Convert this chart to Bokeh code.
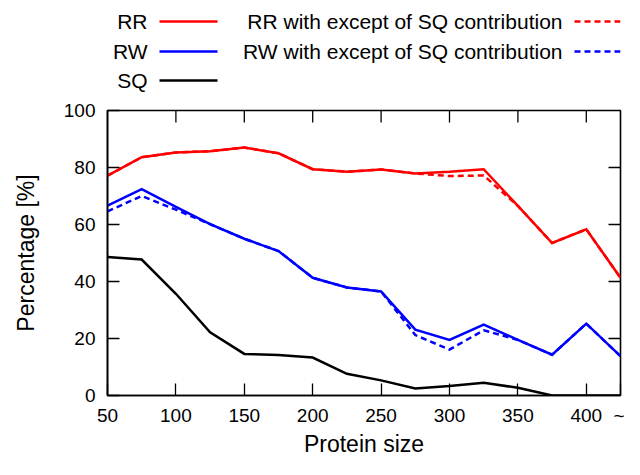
import math
from bokeh.plotting import figure
from bokeh.layouts import column
from bokeh.models import Range1d, FixedTicker, ColumnDataSource
from bokeh.core.properties import value
from bokeh.embed import file_html
from bokeh.resources import INLINE

# ---------------- data ----------------
protein_size = [50, 75, 100, 125, 150, 175, 200, 225, 250, 275, 300, 325, 350, 375, 400, 425]
rr = [77.1, 83.6, 85.3, 85.7, 87.0, 85.0, 79.4, 78.5, 79.3, 77.9, 78.5, 79.4, 66.5, 53.5, 58.3, 41.3]
rw = [66.6, 72.4, 66.2, 60.1, 55.0, 50.7, 41.3, 37.9, 36.5, 23.1, 19.5, 24.9, 19.5, 14.3, 25.2, 13.8]
sq = [48.6, 47.7, 35.7, 22.2, 14.6, 14.2, 13.3, 7.6, 5.3, 2.5, 3.3, 4.5, 2.7, 0.0, 0.0, 0.0]
rr_wo_sq = [77.1, 83.6, 85.3, 85.7, 87.0, 85.0, 79.4, 78.5, 79.3, 77.9, 77.0, 77.2, 66.5, 53.5, 58.3, 41.3]
rw_wo_sq = [64.6, 70.0, 65.2, 60.1, 55.0, 50.7, 41.3, 37.9, 36.5, 21.2, 16.1, 22.9, 19.5, 14.3, 25.2, 13.8]

x_ticks = [50, 100, 150, 200, 250, 300, 350, 400, 425]
x_tick_labels = ["50", "100", "150", "200", "250", "300", "350", "400", "~"]
y_ticks = [0, 20, 40, 60, 80, 100]

series_names = ["RR", "RW", "SQ",
                "RR with except of SQ contribution",
                "RW with except of SQ contribution"]
series_colors = ["#ff0000", "#0000ff", "#000000", "#ff0000", "#0000ff"]
series_dashes = ["solid", "solid", "solid", "6 4", "6 4"]

FONT = "Liberation Sans"

W = 624
LEG_H = 98
MAIN_H = 361
BORDER_L = 107
BORDER_R = 4

# ---------------- legend strip (data units == pixels) ----------------
lg = figure(width=W, height=LEG_H, x_range=Range1d(BORDER_L, W - BORDER_R),
            y_range=Range1d(LEG_H, 0),
            x_axis_type=None, y_axis_type=None, output_backend="svg",
            toolbar_location=None, min_border_left=BORDER_L, min_border_right=BORDER_R,
            min_border_top=0, min_border_bottom=0, outline_line_color=None)
lg.xgrid.visible = False
lg.ygrid.visible = False

col_text_right = [147, 562]
col_line = [(159, 217), (574, 640)]
row_y = [21, 51, 80]
slots = [(0, 0), (0, 1), (0, 2), (1, 0), (1, 1)]

for name, color, dash, (c, r) in zip(series_names, series_colors, series_dashes, slots):
    lg.text(x=[col_text_right[c]], y=[row_y[r]], text=[name],
            text_align="right", text_baseline="middle",
            text_font=value(FONT), text_font_size="21px", text_color="#000000")
    x0, x1 = col_line[c]
    lg.segment(x0=[x0], y0=[row_y[r]], x1=[x1], y1=[row_y[r]],
               line_color=color, line_width=2.5, line_dash=dash)

# ---------------- main plot ----------------
p = figure(width=W, height=MAIN_H, x_range=Range1d(50, 425), y_range=Range1d(0, 100),
           output_backend="svg", toolbar_location=None,
           min_border_left=BORDER_L, min_border_right=BORDER_R,
           min_border_top=12, min_border_bottom=60,
           x_axis_label="Protein size", y_axis_label="Percentage [%]")
p.xgrid.visible = False
p.ygrid.visible = False
p.outline_line_color = "#000000"
p.outline_line_width = 1.6
p.outline_line_alpha = 1.0
p.background_fill_color = "#ffffff"
p.border_fill_color = "#ffffff"

src = ColumnDataSource(dict(x=protein_size, rr=rr, rw=rw, sq=sq,
                            rr_wo_sq=rr_wo_sq, rw_wo_sq=rw_wo_sq))
keys = ["rr", "rw", "sq", "rr_wo_sq", "rw_wo_sq"]
for key, color, dash in zip(keys, series_colors, series_dashes):
    p.line(x="x", y=key, source=src, line_color=color, line_width=2.5,
           line_dash=dash, line_join="miter")

xa = p.xaxis[0]
xa.ticker = FixedTicker(ticks=x_ticks)
xa.major_label_overrides = {t: l for t, l in zip(x_ticks, x_tick_labels)}
ya = p.yaxis[0]
ya.ticker = FixedTicker(ticks=y_ticks)

for ax in (xa, ya):
    ax.major_tick_in = 12
    ax.major_tick_out = 0
    ax.minor_tick_line_color = None
    ax.major_tick_line_width = 1.3
    ax.major_tick_line_color = "#000000"
    ax.axis_line_width = 1.6
    ax.axis_line_color = "#000000"
    ax.major_label_text_font = FONT
    ax.major_label_text_font_size = "19px"
    ax.major_label_text_color = "#000000"
    ax.axis_label_text_font = FONT
    ax.axis_label_text_font_size = "23px"
    ax.axis_label_text_font_style = "normal"
    ax.axis_label_text_color = "#000000"

xa.major_label_standoff = 9
xa.axis_label_standoff = 2
ya.major_label_standoff = 12
ya.axis_label_standoff = 22

# mirrored inward ticks on the top and right edges
top_x = x_ticks[1:-1]
p.ray(x=top_x, y=[y_ticks[-1]] * len(top_x), length=12, length_units="screen",
      angle=-math.pi / 2, line_color="#000000", line_width=1.3)
right_y = y_ticks[1:-1]
p.ray(x=[x_ticks[-1]] * len(right_y), y=right_y, length=12, length_units="screen",
      angle=math.pi, line_color="#000000", line_width=1.3)

layout = column(lg, p, spacing=0)
open("out.html", "w").write(file_html(layout, INLINE))
